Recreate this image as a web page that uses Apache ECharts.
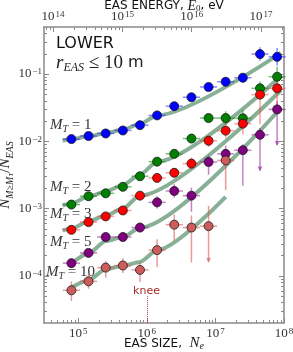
<!DOCTYPE html>
<html><head><meta charset="utf-8">
<script src="https://cdn.jsdelivr.net/npm/echarts@6/dist/echarts.min.js"></script>
<style>html,body{margin:0;padding:0;background:#fff}#c{width:293px;height:352px}</style>
</head><body><div id="c"></div>
<script>
// ---- data ----
const neBins = [7.94e4,1.41e5,2.51e5,4.47e5,7.94e5,1.41e6,2.51e6,4.47e6,7.94e6,1.41e7,2.51e7,4.47e7,7.94e7];
const fracM1  = [1.08e-2,1.20e-2,1.31e-2,1.45e-2,1.74e-2,2.43e-2,3.33e-2,4.52e-2,6.42e-2,7.69e-2,8.81e-2,1.98e-1,1.80e-1];
const fracM2  = [1.15e-3,1.53e-3,1.69e-3,2.11e-3,3.03e-3,4.99e-3,6.52e-3,1.10e-2,2.22e-2,2.22e-2,2.20e-2,6.14e-2,9.12e-2];
const fracM3  = [4.84e-4,6.31e-4,7.67e-4,9.40e-4,1.56e-3,2.86e-3,3.41e-3,4.67e-3,1.02e-2,1.44e-2,1.83e-2,4.94e-2,6.14e-2];
const fracM5  = [1.55e-4,2.20e-4,3.79e-4,3.79e-4,5.24e-4,1.24e-3,1.83e-3,1.56e-3,4.94e-3,6.52e-3,7.39e-3,1.25e-2,2.98e-2];
const fracM10 = [6.12e-5,8.32e-5,1.33e-4,1.43e-4,1.23e-4,2.42e-4,5.78e-4,5.24e-4,5.50e-4,5.21e-3];
// error bars in decades (log10 units): up / down
const errUpM1  = [0.03,0.03,0.03,0.03,0.03,0.035,0.045,0.045,0.06,0.06,0.07,0.10,0.13];
const errDnM1  = [0.03,0.03,0.03,0.03,0.03,0.035,0.045,0.045,0.06,0.06,0.07,0.10,0.13];
const errUpM2  = [0.03,0.03,0.03,0.03,0.045,0.045,0.045,0.045,0.06,0.10,0.12,0.10,0.15];
const errDnM2  = [0.03,0.03,0.03,0.03,0.045,0.045,0.045,0.045,0.06,0.10,0.08,0.10,0.15];
const errUpM3  = [0.03,0.03,0.03,0.03,0.045,0.045,0.07,0.09,0.09,0.11,0.15,0.12,0.12];
const errDnM3  = [0.03,0.03,0.03,0.03,0.045,0.045,0.07,0.09,0.09,0.11,0.16,0.44,0.27];
const errUpM5  = [0.07,0.06,0.06,0.06,0.07,0.09,0.10,0.12,0.10,0.12,0.09,0.10,0.12];
const errDnM5  = [0.07,0.06,0.06,0.06,0.07,0.09,0.10,0.24,0.19,0.12,0.53,0.53,0.53];
const errUpM10 = [0.13,0.11,0.10,0.11,0.12,0.16,0.15,0.18,0.30,0.12];
const errDnM10 = [0.16,0.11,0.15,0.11,0.18,0.25,0.24,0.52,0.53,0.44];
const limM5  = [0,0,0,0,0,0,0,0,0,0,0,1,1];
const limM10 = [0,0,0,0,0,0,0,0,1,0];
const xErrDex = 0.125;
// fitted curves
const fitNeM1  = [5.89e4,7.94e4,1.41e5,2.51e5,4.47e5,7.94e5,1.41e6,9.02e7];
const fitValM1 = [1.03e-2,1.074e-2,1.189e-2,1.318e-2,1.496e-2,1.82e-2,2.43e-2,2.065e-1];
const fitNeM2  = [5.89e4,7.94e4,1.41e5,2.51e5,4.47e5,7.94e5,1.41e6,9.02e7];
const fitValM2 = [1.114e-3,1.194e-3,1.514e-3,1.795e-3,2.244e-3,3.206e-3,4.99e-3,9.33e-2];
const fitNeM3  = [5.89e4,7.94e4,1.41e5,2.51e5,4.47e5,7.94e5,9.02e7];
const fitValM3 = [4.76e-4,5.09e-4,6.47e-4,7.93e-4,1.007e-3,1.567e-3,5.75e-2];
const fitNeM5  = [7.59e4,1.41e5,2.51e5,4.47e5,7.94e5,9.02e7];
const fitValM5 = [1.479e-4,2.153e-4,3.304e-4,3.784e-4,5.21e-4,3.16e-2];
const fitNeM10 = [7.94e4,1.41e5,2.51e5,4.47e5,7.94e5,1.41e6,1.41e7];
const fitValM10= [6.76e-5,8.67e-5,1.262e-4,1.409e-4,1.618e-4,2.41e-4,1.5e-3];
// axes (decades)
const xRange = [1e4*Math.sqrt(10), 1e8];
const yRange = [2e-5, 0.5];
const eRange = [7.4e13, 2.14e17];
const xTickExp = [5,6,7,8];
const yTickExp = [-4,-3,-2,-1];
const eTickExp = [14,15,16,17];
const kneeNe = 1e6;
const kneeTop = 5.0e-5;

// ---- chart ----
const lg = Math.log10;
function minorTicks(lo, hi){
  const out=[];
  for(let n=Math.floor(lo)-1;n<=Math.ceil(hi);n++){
    for(let k=2;k<=9;k++){const v=n+lg(k); if(v>lo+1e-3 && v<hi-1e-3) out.push(v);}
  }
  return out;
}
const X0=lg(xRange[0]),X1=lg(xRange[1]),Y0=lg(yRange[0]),Y1=lg(yRange[1]),E0=lg(eRange[0]),E1=lg(eRange[1]);
const sup = v => '10{s|'+String(v).replace('-','\u2212')+'}';
const frameColor='#8a8a8a';
const tickLabel = {fontFamily:'Liberation Serif',fontSize:13,color:'#333',
  rich:{s:{fontFamily:'Liberation Serif',fontSize:9,verticalAlign:'top',color:'#333',padding:[0,0,0,1]}}};

function axisPair(kind, pos, lo, hi, majors, withLabels, name, nameGap, nameStyle){
  const major = {type:'value', position:pos, min:lo, max:hi, gridIndex:0,
    axisLine:{show:true,onZero:false,lineStyle:{color:frameColor,width:1.5}},
    axisTick:{show:true,inside:true,length:5,customValues:majors,lineStyle:{color:frameColor,width:1}},
    axisLabel:withLabels?Object.assign({show:true,customValues:majors,formatter:sup,margin:kind==='y'?2:4},tickLabel):{show:false},
    splitLine:{show:false}};
  if(name){major.name=name;major.nameLocation='middle';major.nameGap=nameGap;major.nameTextStyle=nameStyle;major.nameMoveOverlap=false;}
  if(kind==='y'&&name){major.nameRotate=90;}
  const minor = {type:'value', position:pos, min:lo, max:hi, gridIndex:0,
    axisLine:{show:false}, axisLabel:{show:false}, splitLine:{show:false},
    axisTick:{show:true,inside:true,length:3,customValues:minorTicks(lo,hi),lineStyle:{color:frameColor,width:1}}};
  return [major, minor];
}

const groups = [
  {vals:fracM1, up:errUpM1, dn:errDnM1, lim:null,  color:'#0000ff', bar:'rgba(40,40,255,0.55)', fx:fitNeM1, fy:fitValM1},
  {vals:fracM2, up:errUpM2, dn:errDnM2, lim:null,  color:'#008000', bar:'rgba(0,150,0,0.55)', fx:fitNeM2, fy:fitValM2},
  {vals:fracM3, up:errUpM3, dn:errDnM3, lim:null,  color:'#ff0000', bar:'rgba(255,60,60,0.5)', fx:fitNeM3, fy:fitValM3},
  {vals:fracM5, up:errUpM5, dn:errDnM5, lim:limM5, color:'#800080', bar:'rgba(150,30,150,0.55)', fx:fitNeM5, fy:fitValM5},
  {vals:fracM10,up:errUpM10,dn:errDnM10,lim:limM10,color:'#cd5c5c', bar:'rgba(215,90,90,0.6)', fx:fitNeM10, fy:fitValM10}
];
const series=[];
groups.forEach((g,gi)=>{
  series.push({type:'line', xAxisIndex:0, yAxisIndex:0, z:1, symbol:'none', smooth:0.25, smoothMonotone:'x',
    data:g.fx.map((v,i)=>[lg(v),lg(g.fy[i])]),
    lineStyle:{color:'rgba(90,145,110,0.72)',width:4}, silent:true,
    markLine: gi===4 ? {silent:true,symbol:'none',label:{show:false},
      lineStyle:{color:'#b03a3a',type:'dotted',width:1},
      data:[[{coord:[lg(kneeNe),lg(kneeTop)]},{coord:[lg(kneeNe),Y0]}]]} : undefined
  });
  series.push({type:'custom', xAxisIndex:0, yAxisIndex:0, z:2, silent:true,
    data:g.vals.map((v,i)=>[lg(neBins[i]),lg(v),g.up[i],g.dn[i],g.lim?g.lim[i]:0]),
    encode:{x:0,y:1},
    renderItem:(params,api)=>{
      const lx=api.value(0),ly=api.value(1),up=api.value(2),dn=api.value(3),lim=api.value(4);
      const pL=api.coord([lx-xErrDex,ly]),pR=api.coord([lx+xErrDex,ly]);
      const pT=api.coord([lx,ly+up]),pB=api.coord([lx,ly-dn]);
      const ch=[
        {type:'line',shape:{x1:pL[0],y1:pL[1],x2:pR[0],y2:pR[1]},style:{stroke:g.bar,lineWidth:1.5}},
        {type:'line',shape:{x1:pT[0],y1:pT[1],x2:pB[0],y2:pB[1]},style:{stroke:g.bar,lineWidth:1.5}}
      ];
      if(lim) ch.push({type:'polygon',shape:{points:[[pB[0]-2.5,pB[1]-4],[pB[0]+2.5,pB[1]-4],[pB[0],pB[1]+1]]},style:{fill:g.bar}});
      return {type:'group',children:ch};
    }
  });
  series.push({type:'scatter', xAxisIndex:0, yAxisIndex:0, z:3, symbol:'circle', symbolSize:9, silent:true,
    data:g.vals.map((v,i)=>[lg(neBins[i]),lg(v)]),
    itemStyle:{color:g.color,borderColor:'#1a1a1a',borderWidth:0.8,opacity:1}});
});

const it={fontFamily:'Liberation Serif',fontStyle:'italic',color:'#222'};
const xs = axisPair('x','bottom',X0,X1,xTickExp,true,'{a|EAS SIZE,  }{i|N}{s|e}',13,
  {rich:{a:{fontFamily:'DejaVu Sans',fontSize:12,color:'#111'},i:Object.assign({fontSize:15},it),s:Object.assign({fontSize:10,verticalAlign:'bottom'},it)}});
const es = axisPair('x','top',E0,E1,eTickExp,true,'{a|EAS ENERGY, }{i|E}{s|0}{a|, eV}',14,
  {rich:{a:{fontFamily:'DejaVu Sans',fontSize:12,color:'#111'},i:Object.assign({fontSize:14},it),s:{fontFamily:'Liberation Serif',fontSize:9,verticalAlign:'bottom',color:'#222'}}});
const ysL = axisPair('y','left',Y0,Y1,yTickExp,true,'{i|N}{s|M\u2265M}{ss|T}{n|/}{i|N}{s|EAS}',29,
  {rich:{i:Object.assign({fontSize:15,lineHeight:20},it),s:Object.assign({fontSize:10,verticalAlign:'bottom',lineHeight:20},it),
         ss:Object.assign({fontSize:7,verticalAlign:'bottom',lineHeight:18},it),n:{fontFamily:'Liberation Serif',fontSize:15,color:'#222'}}});
const ysR = axisPair('y','right',Y0,Y1,yTickExp,false);

function mtLabel(x,y,n){
  return {type:'text',x:x,y:y,silent:true,style:{text:'{i|M}{s|T}{n| = '+n+'}',verticalAlign:'middle',
    rich:{i:{fontFamily:'Liberation Serif',fontStyle:'italic',fontSize:15,fill:'#333',lineHeight:18},
          s:{fontFamily:'Liberation Serif',fontStyle:'italic',fontSize:10,fill:'#333',verticalAlign:'bottom',lineHeight:16},
          n:{fontFamily:'Liberation Serif',fontSize:15,fill:'#333',lineHeight:18}}}};
}

const chart = echarts.init(document.getElementById('c'),null,{renderer:'canvas'});
chart.setOption({
  animation:false,
  backgroundColor:'#fff',
  grid:{left:44,right:9,top:27,bottom:29,containLabel:false,outerBoundsMode:'none'},
  xAxis:[xs[0],xs[1],es[0],es[1]],
  yAxis:[ysL[0],ysL[1],ysR[0],ysR[1]],
  series:series,
  graphic:[
    {type:'text',x:56,y:44,silent:true,style:{text:'LOWER',font:'16px "DejaVu Sans"',fill:'#111',verticalAlign:'middle'}},
    {type:'text',x:56,y:63,silent:true,style:{text:'{i|r}{s|EAS}{n| \u2264 10}{m| m}',verticalAlign:'middle',
      rich:{i:{fontFamily:'Liberation Serif',fontStyle:'italic',fontSize:19,fill:'#222',lineHeight:22},
            s:{fontFamily:'Liberation Serif',fontStyle:'italic',fontSize:12,fill:'#222',verticalAlign:'bottom',lineHeight:20},
            n:{fontFamily:'Liberation Serif',fontSize:19,fill:'#222',lineHeight:22},
            m:{fontFamily:'DejaVu Sans',fontSize:16,fill:'#222',lineHeight:22}}}},
    mtLabel(50,125,'1'), mtLabel(50,187,'2'), mtLabel(50,214,'3'), mtLabel(50,242,'5'), mtLabel(46,272,'10'),
    {type:'text',x:146.5,y:291,silent:true,style:{text:'knee',font:'11px "DejaVu Sans"',fill:'#a52a2a',align:'center',verticalAlign:'middle'}}
  ]
});
</script></body></html>
